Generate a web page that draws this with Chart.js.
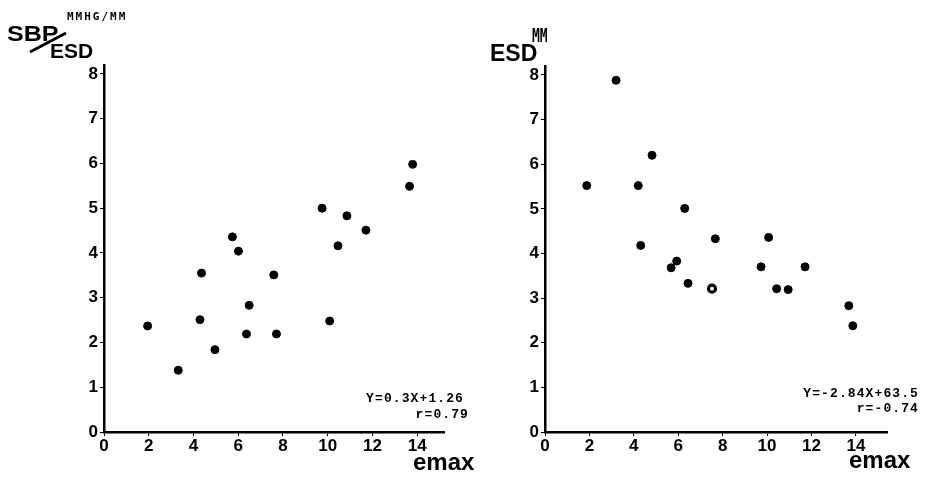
<!DOCTYPE html>
<html>
<head>
<meta charset="utf-8">
<script src="https://cdn.jsdelivr.net/npm/chart.js@4/dist/chart.umd.min.js"></script>
<style>
  html, body { margin: 0; padding: 0; background: #fff; width: 927px; height: 477px; overflow: hidden; }
  canvas { position: absolute; top: 0; }
  #c1 { left: 0px; }
  #c2 { left: 470px; }
</style>
</head>
<body>
<canvas id="c1" width="485" height="477"></canvas>
<canvas id="c2" width="457" height="477"></canvas>
<script>
// ---- data ----
const xTicks = [0, 2, 4, 6, 8, 10, 12, 14];
const yTicks = [0, 1, 2, 3, 4, 5, 6, 7, 8];

// Left panel: SBP/ESD (mmHg/mm) vs Emax
const leftEmax = [1.95, 3.32, 4.29, 4.36, 4.96, 5.74, 6.01, 6.37, 6.49, 7.59, 7.71, 9.75, 10.09, 10.46, 10.86, 11.71, 13.66, 13.80];
const leftSbpEsd = [2.37, 1.38, 2.51, 3.55, 1.84, 4.36, 4.04, 2.19, 2.83, 3.51, 2.19, 5.00, 2.48, 4.16, 4.83, 4.51, 5.49, 5.98];

// Right panel: ESD (mm) vs Emax
const rightEmax = [1.88, 3.20, 4.20, 4.31, 4.82, 5.68, 5.93, 6.29, 6.44, 7.52, 7.67, 9.73, 10.07, 10.43, 10.95, 11.71, 13.68, 13.86];
const rightEsd = [5.52, 7.88, 5.52, 4.18, 6.20, 3.68, 3.83, 5.01, 3.33, 3.21, 4.33, 3.70, 4.36, 3.21, 3.19, 3.70, 2.83, 2.38];

const leftEquation = ['Y=0.3X+1.26', 'r=0.79'];
const rightEquation = ['Y=-2.84X+63.5', 'r=-0.74'];

// ---- helpers ----
const pts = (xs, ys) => xs.map((x, i) => ({ x: x, y: ys[i] }));
const tickFont = { family: 'Liberation Sans', weight: 'bold', size: 17 };

const textPlugin = {
  id: 'textItems',
  afterDraw(chart, args, opts) {
    const ctx = chart.ctx;
    (opts.items || []).forEach(it => {
      ctx.save();
      ctx.fillStyle = '#000';
      ctx.strokeStyle = '#000';
      if (it.line) {
        ctx.lineWidth = it.lw || 3;
        ctx.beginPath();
        ctx.moveTo(it.line[0], it.line[1]);
        ctx.lineTo(it.line[2], it.line[3]);
        ctx.stroke();
        ctx.restore();
        return;
      }
      ctx.font = it.font;
      ctx.letterSpacing = (it.ls || 0) + 'px';
      ctx.textBaseline = 'alphabetic';
      ctx.textAlign = it.align || 'left';
      ctx.translate(it.x, it.y);
      ctx.scale(it.sx || 1, it.sy || 1);
      ctx.fillText(it.text, 0, 0);
      ctx.restore();
    });
  }
};

function makeChart(id, xs, ys, xMax, yMax, pad, items, openIndex) {
  return new Chart(document.getElementById(id), {
    type: 'scatter',
    data: {
      datasets: [{
        data: pts(xs, ys),
        pointRadius: c => c.dataIndex === openIndex ? 3.5 : 4,
        pointHoverRadius: 4,
        pointBackgroundColor: c => c.dataIndex === openIndex ? '#fff' : '#000',
        pointBorderColor: '#000',
        pointBorderWidth: c => c.dataIndex === openIndex ? 3.2 : 1
      }]
    },
    options: {
      responsive: false,
      animation: false,
      devicePixelRatio: 1,
      layout: { padding: pad },
      plugins: {
        legend: { display: false },
        tooltip: { enabled: false },
        textItems: { items: items }
      },
      scales: {
        x: {
          type: 'linear',
          min: 0, max: xMax,
          afterBuildTicks: s => { s.ticks = xTicks.map(v => ({ value: v })); },
          afterFit: s => { s.height = 30; },
          border: { display: true, color: '#000', width: 2.5 },
          grid: { display: true, drawOnChartArea: false, drawTicks: true, tickLength: 4, color: '#000', lineWidth: 1 },
          ticks: { color: '#000', font: tickFont, padding: 0, maxRotation: 0, autoSkip: false }
        },
        y: {
          type: 'linear',
          min: 0, max: yMax,
          afterBuildTicks: s => { s.ticks = yTicks.map(v => ({ value: v })); },
          afterFit: s => { s.width = 40; },
          border: { display: true, color: '#000', width: 2.5 },
          grid: { display: true, drawOnChartArea: false, drawTicks: true, tickLength: 4, color: '#000', lineWidth: 1 },
          ticks: { color: '#000', font: tickFont, padding: 2, autoSkip: false }
        }
      }
    },
    plugins: [textPlugin]
  });
}

const monoFont = 'bold 13px "Liberation Mono"';
const titleFont = 'bold 24px "Liberation Sans"';

// Left chart (canvas offset 0)
makeChart('c1', leftEmax, leftSbpEsd, 15.2, 8.2,
  { left: 64, right: 41, top: 65, bottom: 15 },
  [
    { text: 'SBP', x: 7, y: 41, font: 'bold 22px "Liberation Sans"', sx: 1.14 },
    { line: [30, 52, 66, 33], lw: 3 },
    { text: 'ESD', x: 50, y: 58, font: 'bold 21px "Liberation Sans"' },
    { text: 'MMHG/MM', x: 67, y: 20, font: 'bold 11px "DejaVu Sans Mono"', ls: 2 },
    { text: leftEquation[0], x: 464, y: 402, font: monoFont, ls: 1.1, align: 'right' },
    { text: leftEquation[1], x: 469, y: 418, font: monoFont, ls: 1.1, align: 'right' },
    { text: 'emax', x: 413, y: 470, font: titleFont }
  ], -1);

// Right chart (canvas offset 470)
const o = 470;
makeChart('c2', rightEmax, rightEsd, 15.4, 8.2,
  { left: 35, right: 40, top: 66, bottom: 15 },
  [
    { text: 'ESD', x: 490 - o, y: 61, font: 'bold 23px "Liberation Sans"' },
    { text: 'MM', x: 532 - o, y: 42, font: 'bold 10px "DejaVu Sans Mono"', sx: 1.3, sy: 1.9 },
    { text: rightEquation[0], x: 919 - o, y: 397, font: monoFont, ls: 1.1, align: 'right' },
    { text: rightEquation[1], x: 919 - o, y: 412, font: monoFont, ls: 1.1, align: 'right' },
    { text: 'emax', x: 849 - o, y: 468, font: titleFont }
  ], 9);
</script>
</body>
</html>
